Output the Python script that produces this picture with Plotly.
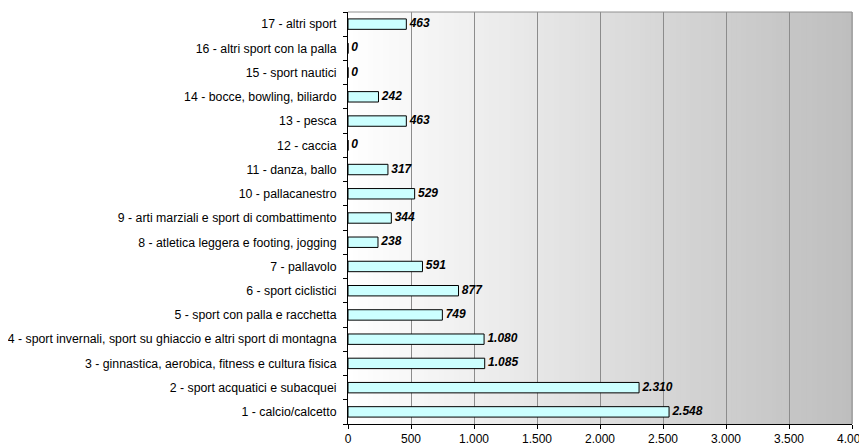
import plotly.graph_objects as go

categories = [
    "1 - calcio/calcetto",
    "2 - sport acquatici e subacquei",
    "3 - ginnastica, aerobica, fitness e cultura fisica",
    "4 - sport invernali, sport su ghiaccio e altri sport di montagna",
    "5 - sport con palla e racchetta",
    "6 - sport ciclistici",
    "7 - pallavolo",
    "8 - atletica leggera e footing, jogging",
    "9 - arti marziali e sport di combattimento",
    "10 - pallacanestro",
    "11 - danza, ballo",
    "12 - caccia",
    "13 - pesca",
    "14 - bocce, bowling, biliardo",
    "15 - sport nautici",
    "16 - altri sport con la palla",
    "17 - altri sport",
]
values = [2548, 2310, 1085, 1080, 749, 877, 591, 238, 344, 529, 317, 0, 463, 242, 0, 0, 463]
x_ticks = [0, 500, 1000, 1500, 2000, 2500, 3000, 3500, 4000]


def fmt(v):
    return f"{v:,}".replace(",", ".")


labels = [" " + fmt(v) for v in values]

fig = go.Figure()
fig.add_trace(go.Bar(
    x=values, y=categories, orientation="h",
    marker=dict(color="#ccffff", line=dict(color="#000000", width=1)),
    width=0.43, hoverinfo="x+y",
))
fig.add_trace(go.Scatter(
    x=values, y=categories, mode="text", text=labels,
    textposition="middle right",
    textfont=dict(family="Arial, Liberation Sans", size=12, color="#000000", weight="bold", style="italic"),
    hoverinfo="skip", cliponaxis=False,
))

# gradient background (white -> gray), drawn below gridlines
n = 100
shapes = []
for i in range(n):
    t = (i + 0.5) / n
    c = int(round(255 - t * (255 - 190)))
    shapes.append(dict(type="rect", xref="x domain", yref="y domain",
                       x0=i / n, x1=(i + 1) / n + 0.002, y0=0, y1=1,
                       fillcolor=f"rgb({c},{c},{c})", line=dict(width=0), layer="below"))
# top and right border
shapes.append(dict(type="line", xref="x domain", yref="y domain", x0=0, x1=1, y0=1, y1=1,
                   line=dict(color="#909090", width=1), layer="above"))
shapes.append(dict(type="line", xref="x domain", yref="y domain", x0=1, x1=1, y0=0, y1=1,
                   line=dict(color="#909090", width=1), layer="above"))

# the page body adds an 8px offset; margins compensate for it
fig.update_layout(
    width=867, height=447,
    margin=dict(l=340, r=23, t=4, b=31),
    paper_bgcolor="#ffffff", plot_bgcolor="#ffffff",
    showlegend=False,
    separators=",.",
    font=dict(family="Arial, Liberation Sans", size=12.3, color="#000000"),
    shapes=shapes,
)
fig.update_xaxes(
    range=[0, 4000], tickvals=x_ticks, tickformat=",d",
    showgrid=True, gridcolor="#8c8c8c", gridwidth=1,
    showline=True, linecolor="#000000", linewidth=1,
    ticks="outside", ticklen=4, tickcolor="#000000",
    zeroline=False, fixedrange=True, automargin=False,
    tickfont=dict(size=12),
)
fig.update_yaxes(
    type="category", categoryorder="array", categoryarray=categories,
    range=[-0.5, len(categories) - 0.5],
    showgrid=False, showline=True, linecolor="#000000", linewidth=1,
    ticks="outside", ticklen=4, tickcolor="#000000", tickson="boundaries",
    ticklabelstandoff=8, automargin=False,
    tickfont=dict(size=12.3), fixedrange=True,
)

fig.write_html("out.html")
